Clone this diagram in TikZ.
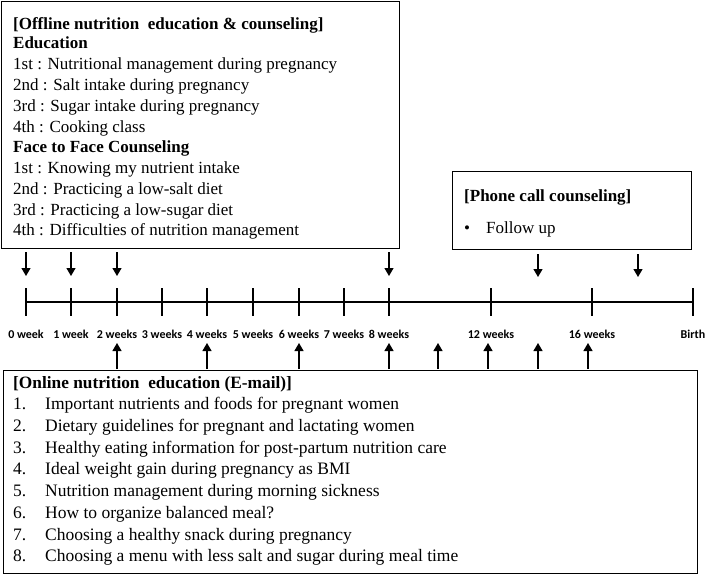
\documentclass[tikz,border=0pt]{standalone}
\usepackage{fontspec}
\setmainfont{Liberation Serif}
\newfontfamily\lblfont{Carlito}
\usetikzlibrary{arrows.meta}
\begin{document}
\begin{tikzpicture}[x=1pt,y=-1pt,
  box/.style={draw, line width=1.3pt, inner sep=0, anchor=north west},
  txt/.style={anchor=west, inner sep=0, yshift=-3.5pt, text height=0.7em, text depth=0.25em, font=\fontsize{17}{20}\selectfont},
  hd/.style={txt, font=\fontsize{17}{20}\selectfont\bfseries},
  etxt/.style={txt, font=\fontsize{17.5}{20}\selectfont},
  ehd/.style={txt, font=\fontsize{17.3}{20}\selectfont\bfseries},
  wk/.style={inner sep=0, font=\lblfont\bfseries\fontsize{12}{14}\selectfont},
  tickln/.style={line width=1.3pt},
  arr/.style={line width=1.2pt, -{Triangle[width=9pt,length=8pt]}},
]
\useasboundingbox (0,0) rectangle (709,576);

% boxes
\node[box, minimum width=398pt, minimum height=247pt] (off) at (1,1) {};
\node[box, minimum width=239pt, minimum height=78pt] (phone) at (452,171) {};
\node[box, minimum width=694pt, minimum height=203pt] (online) at (3,370) {};

% offline text
\node[hd] (o0) at (13,24) {[Offline nutrition\ \ education \& counseling]};
\node[hd] (o1) at (13,43) {Education};
\node[txt] (o2) at (13,64) {1st : Nutritional management during pregnancy};
\node[txt] (o3) at (13,85) {2nd : Salt intake during pregnancy};
\node[txt] (o4) at (13,106) {3rd : Sugar intake during pregnancy};
\node[txt] (o5) at (13,127) {4th : Cooking class};
\node[hd] (o6) at (13,147) {Face to Face Counseling};
\node[txt] (o7) at (13,168) {1st : Knowing my nutrient intake};
\node[txt] (o8) at (13,189) {2nd : Practicing a low-salt diet};
\node[txt] (o9) at (13,210) {3rd : Practicing a low-sugar diet};
\node[txt] (o10) at (13,230) {4th : Difficulties of nutrition management};

% phone text
\node[hd] (p0) at (464,196) {[Phone call counseling]};
\node[txt] (p1) at (464,228) {\textbullet};
\node[txt] (p2) at (486,228) {Follow up};

% online text
\node[ehd] (e0) at (13,383) {[Online nutrition\ \ education (E-mail)]};
\foreach \i/\y/\t in {
  1/404/Important nutrients and foods for pregnant women,
  2/426/Dietary guidelines for pregnant and lactating women,
  3/448/Healthy eating information for post-partum nutrition care,
  4/469/Ideal weight gain during pregnancy as BMI,
  5/491/Nutrition management during morning sickness,
  6/513/How to organize balanced meal?,
  7/535/Choosing a healthy snack during pregnancy,
  8/556/Choosing a menu with less salt and sugar during meal time}{
  \node[etxt] (en\i) at (13,\y) {\i.};
  \node[etxt] (et\i) at (45,\y) {\t};
}

% timeline
\foreach \n/\x in {0/26,B/693}{
  \coordinate (t\n) at (\x,302);
}
\draw[tickln] (t0) -- (tB);
\foreach \n/\x/\l in {0/26/0 week,1/71/1 week,2/117/2 weeks,3/162/3 weeks,4/207/4 weeks,5/253/5 weeks,6/299/6 weeks,7/344/7 weeks,8/389/8 weeks,12/491/12 weeks,16/592/16 weeks,B/693/Birth}{
  \coordinate (ta\n) at (\x,288);
  \coordinate (tb\n) at (\x,316);
  \draw[tickln] (ta\n) -- (tb\n);
  \node[wk] (lab\n) at (\x,334) {\l};
}

% down arrows (offline & phone)
\foreach \n/\x in {0/26,1/71,2/117,8/389}{
  \coordinate (ds\n) at (\x,252);
  \coordinate (de\n) at (\x,276);
  \draw[arr] (ds\n) -- (de\n);
}
\foreach \n/\x in {14/538,18/638}{
  \coordinate (ps\n) at (\x,254);
  \coordinate (pe\n) at (\x,277);
  \draw[arr] (ps\n) -- (pe\n);
}
% up arrows (online)
\foreach \n/\x in {2/117,4/207,6/299,8/389,10/438,12/488,14/538,16/588}{
  \coordinate (us\n) at (\x,369);
  \coordinate (ue\n) at (\x,343);
  \draw[arr] (us\n) -- (ue\n);
}
\end{tikzpicture}
\end{document}
